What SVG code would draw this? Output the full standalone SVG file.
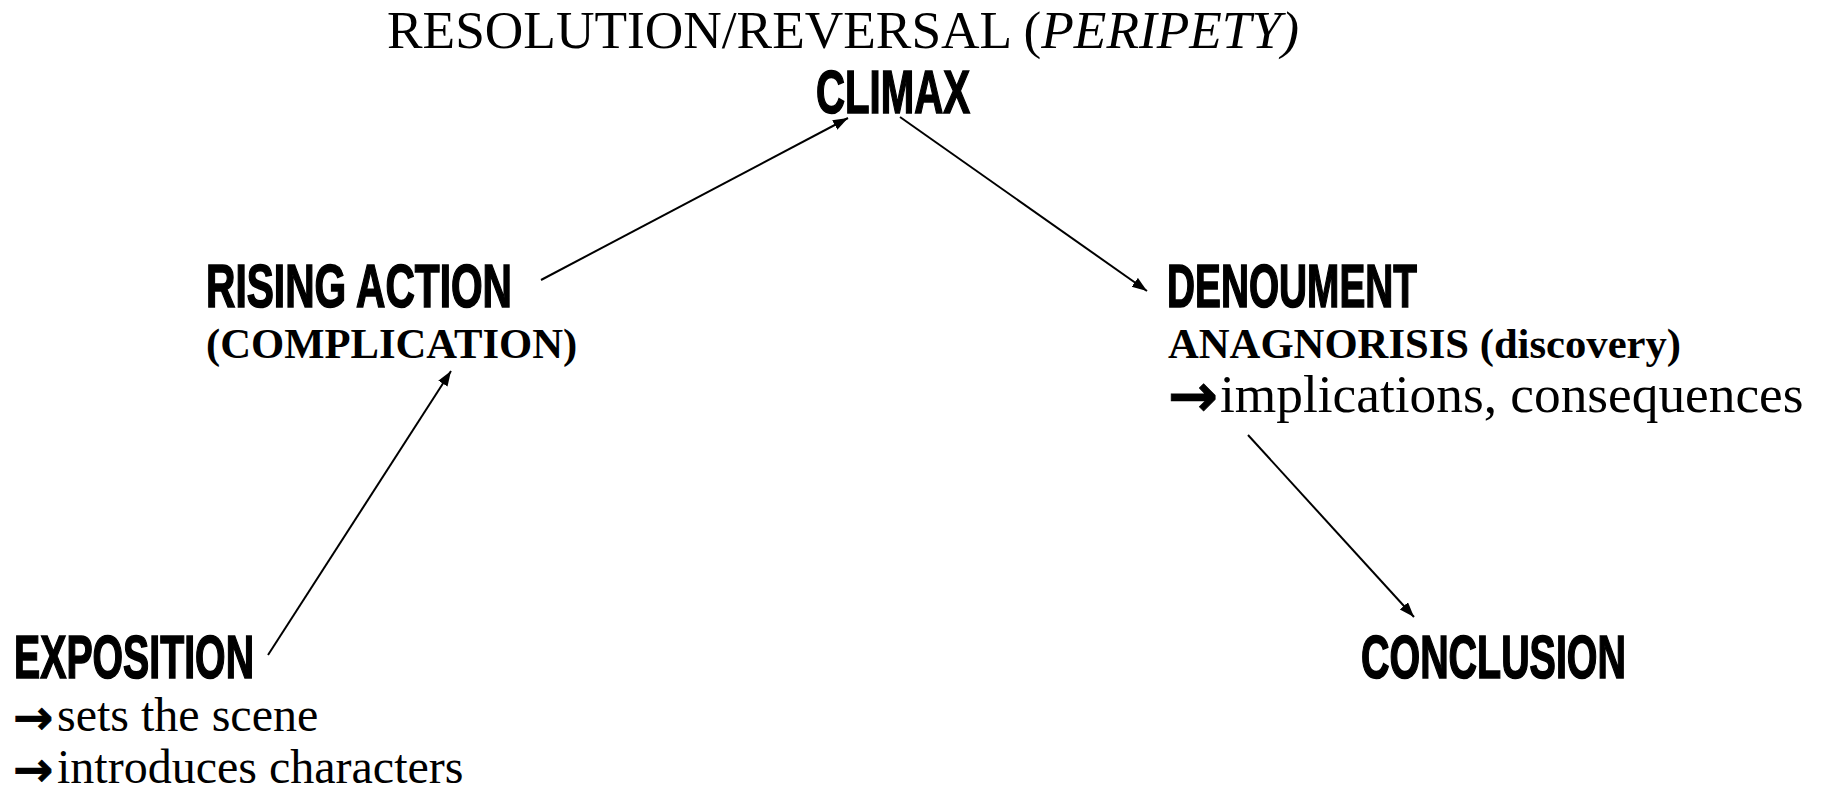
<svg xmlns="http://www.w3.org/2000/svg" width="1821" height="788" viewBox="0 0 1821 788">
<style>
.bg{fill:#fff}
.head{font-family:"Liberation Sans",Arial,sans-serif;font-weight:bold;font-size:61px;fill:#000;stroke:#000;stroke-width:1.6px}
.serif{font-family:"Liberation Serif","Times New Roman",serif;fill:#000}
.big{font-size:53.33px}
.mid{font-size:48px}
.bold{font-size:42.67px;font-weight:bold}
.arr{font-family:"DejaVu Sans","Liberation Sans",sans-serif;font-weight:bold;stroke:#000;stroke-width:0.8px}
.conn{stroke:#000;stroke-width:2;fill:none;marker-end:url(#ah)}
</style>
<defs>
<marker id="ah" markerUnits="userSpaceOnUse" markerWidth="16" markerHeight="12" refX="15" refY="5.5" orient="auto">
<path d="M0,0 L15,5.5 L0,11 Z" fill="#000"/>
</marker>
</defs>
<rect class="bg" x="0" y="0" width="1821" height="788"/>
<g id="title">
<text class="serif big" x="387" y="48">RESOLUTION/REVERSAL (<tspan font-style="italic">PERIPETY)</tspan></text>
</g>
<g id="climax">
<text class="head" x="816" y="113" textLength="154" lengthAdjust="spacingAndGlyphs">CLIMAX</text>
</g>
<g id="rising-action">
<text class="head" x="206" y="307" textLength="306" lengthAdjust="spacingAndGlyphs">RISING ACTION</text>
<text class="serif bold" x="206" y="358">(COMPLICATION)</text>
</g>
<g id="denoument">
<text class="head" x="1167" y="307" textLength="250" lengthAdjust="spacingAndGlyphs">DENOUMENT</text>
<text class="serif bold" x="1168" y="358">ANAGNORISIS (discovery)</text>
<text class="serif big" y="412"><tspan class="arr" x="1168" dy="4" font-size="60">→</tspan><tspan x="1220" dy="-4">implications, consequences</tspan></text>
</g>
<g id="exposition">
<text class="head" x="14" y="678" textLength="240" lengthAdjust="spacingAndGlyphs">EXPOSITION</text>
<text class="serif mid" y="731"><tspan class="arr" x="13" dy="3" font-size="48">→</tspan><tspan x="57" dy="-3">sets the scene</tspan></text>
<text class="serif mid" y="783"><tspan class="arr" x="13" dy="3" font-size="48">→</tspan><tspan x="57" dy="-3">introduces characters</tspan></text>
</g>
<g id="conclusion">
<text class="head" x="1361" y="678" textLength="265" lengthAdjust="spacingAndGlyphs">CONCLUSION</text>
</g>
<g id="connectors">
<line class="conn" x1="268" y1="655" x2="451" y2="371"/>
<line class="conn" x1="541" y1="280" x2="848" y2="118"/>
<line class="conn" x1="900" y1="117" x2="1147" y2="291"/>
<line class="conn" x1="1248" y1="435" x2="1414" y2="617"/>
</g>
</svg>
